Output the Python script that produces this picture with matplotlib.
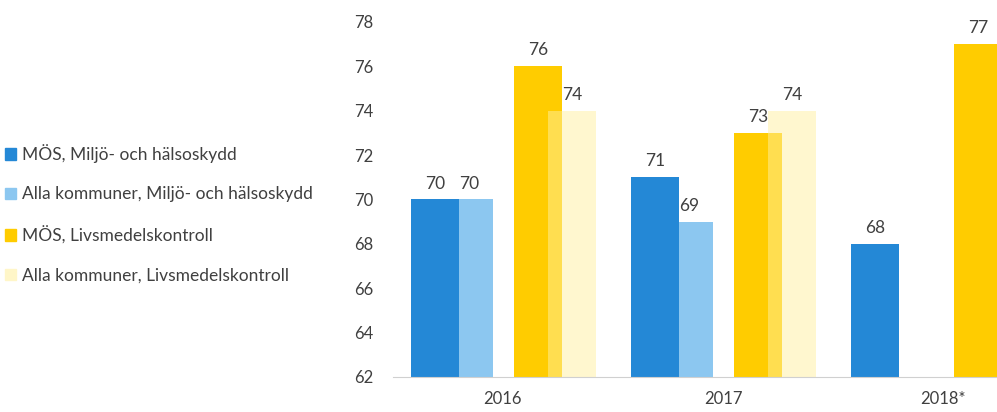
import numpy as np
import matplotlib.pyplot as plt
from matplotlib.patches import Patch

years = ['2016', '2017', '2018*']
mos_miljo = [70, 71, 68]
alla_miljo = [70, 69, None]
mos_livs = [76, 73, 77]
alla_livs = [74, 74, None]
labels = ['MÖS, Miljö- och hälsoskydd', 'Alla kommuner, Miljö- och hälsoskydd',
          'MÖS, Livsmedelskontroll', 'Alla kommuner, Livsmedelskontroll']

plt.rcParams['font.family'] = ['Lato', 'DejaVu Sans']
txt = '#404040'

fig = plt.figure(figsize=(9.97, 4.12), dpi=100)
ax = fig.add_axes([0.394, 0.085, 0.606, 0.862])

x = np.arange(len(years))
w = 0.218
# light blue sits behind dark blue, light yellow is see-through over gold
series = [
    (alla_miljo, -0.155, '#8cc7f0', 1.0),
    (mos_miljo, -0.309, '#2488d6', 1.0),
    (mos_livs, 0.159, '#ffcc00', 1.0),
    (alla_livs, 0.314, '#fff0a0', 0.5),
]
base = 62
for vals, off, col, a in series:
    for xi, v in zip(x, vals):
        if v is None:
            continue
        ax.bar(xi + off, v - base, w, bottom=base, color=col, alpha=a, linewidth=0)
        ax.text(xi + off, v + 0.35, str(v), ha='center', va='bottom', fontsize=12.5, color=txt, clip_on=False)

ax.set_xlim(-0.5, 2.245)
ax.set_ylim(62, 78)
ax.set_yticks(range(62, 79, 2))
ax.set_xticks(x)
ax.set_xticklabels(years)
for s in ['top', 'right', 'left']:
    ax.spines[s].set_visible(False)
ax.spines['bottom'].set_color('#d0d0d0')
ax.tick_params(axis='both', length=0, labelsize=12, colors=txt)
ax.tick_params(axis='y', pad=14)
ax.tick_params(axis='x', pad=10)

handles = [Patch(color='#2488d6'), Patch(color='#8cc7f0'), Patch(color='#ffcc00'), Patch(color='#fff6c8')]
fig.legend(handles, labels, loc='center left', bbox_to_anchor=(0.0, 0.481), frameon=False,
           fontsize=12.5, handlelength=0.65, handleheight=0.65, handletextpad=0.3,
           labelspacing=1.35, labelcolor=txt, borderpad=0.2, borderaxespad=0.1)

fig.savefig('out.png', dpi=100)
